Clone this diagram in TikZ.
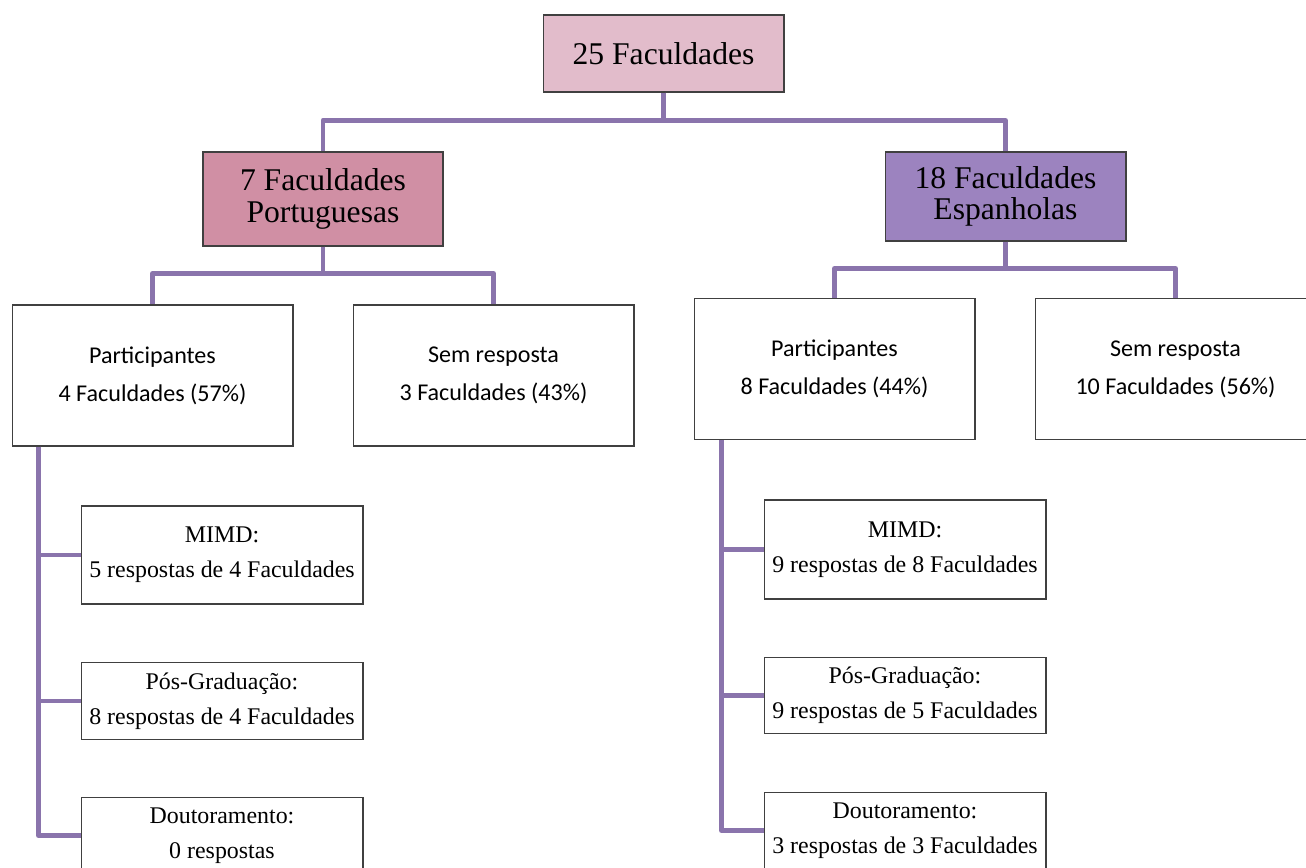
\documentclass[tikz,border=0pt]{standalone}
\usepackage{fontspec}
\setmainfont{Liberation Serif}
\newfontfamily\calibri{Carlito}
\usepackage{xcolor}
\definecolor{linkpurple}{RGB}{138,116,172}
\definecolor{toppink}{RGB}{226,188,203}
\definecolor{ptpink}{RGB}{208,143,164}
\definecolor{espurple}{RGB}{156,131,191}
\definecolor{boxgray}{RGB}{64,64,64}
\tikzstyle{top state}=[
        draw = boxgray,
        line width = 0.6pt,
        fill = toppink,
        minimum width = 4.82cm,
        minimum height = 1.54cm,
        inner sep = 0pt,
        align = center,
        font = \fontsize{18}{18}\selectfont
    ]
\tikzstyle{pt state}=[
    top state,
    fill = ptpink,
    minimum width = 4.8cm,
    minimum height = 1.88cm
]
\tikzstyle{es state}=[
    top state,
    fill = espurple,
    minimum height = 1.78cm
]
\tikzstyle{answer state}=[
    draw = boxgray,
    line width = 0.6pt,
    fill = white,
    minimum width = 5.62cm,
    minimum height = 2.82cm,
    inner sep = 0pt,
    align = center,
    font = \calibri\fontsize{13.7}{21.5}\selectfont
]
\tikzstyle{course state}=[
    answer state,
    minimum width = 5.64cm,
    minimum height = 1.53cm,
    font = \fontsize{13.6}{19.8}\selectfont
]

\begin{document}
\begin{tikzpicture}[x=0.02cm, y=-0.02cm, link/.style = {draw=linkpurple, line width=2.8pt, line join=round}]
        \clip (0,0) rectangle (1306,867);

        \node[top state] (all) at (663.5,53.5) {25 Faculdades};
        \node[pt state] (pt) at (323,199) {7 Faculdades\\Portuguesas};
        \node[es state] (es) at (1005.5,196.5) {18 Faculdades\\Espanholas};

        \node[answer state] (ptpart) at (152.5,375.5) {Participantes\\4 Faculdades (57\%)};
        \node[answer state] (ptsem) at (493.5,375.5) {Sem resposta\\3 Faculdades (43\%)};
        \node[answer state] (espart) at (834.5,369) {Participantes\\8 Faculdades (44\%)};
        \node[answer state] (essem) at (1175.5,369) {Sem resposta\\10 Faculdades (56\%)};

        \node[course state, minimum height = 1.96cm] (ptmimd) at (222,555) {MIMD:\\5 respostas de 4 Faculdades};
        \node[course state] (ptpos) at (222,701) {Pós-Graduação:\\8 respostas de 4 Faculdades};
        \node[course state] (ptdout) at (222,835.5) {Doutoramento:\\0 respostas};
        \node[course state, minimum height = 1.98cm] (esmimd) at (905,549.5) {MIMD:\\9 respostas de 8 Faculdades};
        \node[course state] (espos) at (905,695.5) {Pós-Graduação:\\9 respostas de 5 Faculdades};
        \node[course state] (esdout) at (905,830.5) {Doutoramento:\\3 respostas de 3 Faculdades};

        \draw[link] (all.south) -- ++(0,28) -| (pt.north);
        \draw[link] (all.south) -- ++(0,28) -| (es.north);
        \draw[link] (pt.south) -- ++(0,27) -| (ptpart.north);
        \draw[link] (pt.south) -- ++(0,27) -| (ptsem.north);
        \draw[link] (es.south) -- ++(0,27) -| (espart.north);
        \draw[link] (es.south) -- ++(0,27) -| (essem.north);

        \draw[link] (ptpart.south west) ++(27,0) |- (ptmimd.west);
        \draw[link] (ptpart.south west) ++(27,0) |- (ptpos.west);
        \draw[link] (ptpart.south west) ++(27,0) |- (ptdout.west);
        \draw[link] (espart.south west) ++(28,0) |- (esmimd.west);
        \draw[link] (espart.south west) ++(28,0) |- (espos.west);
        \draw[link] (espart.south west) ++(28,0) |- (esdout.west);

    \end{tikzpicture}
\end{document}
